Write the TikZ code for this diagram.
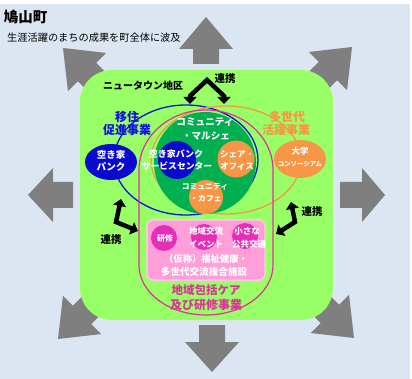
\documentclass[tikz,border=0pt]{standalone}
\usepackage{fontspec}
\setmainfont{Noto Sans CJK JP}
\usetikzlibrary{arrows.meta}
\definecolor{bgc}{HTML}{DCE6F2}
\definecolor{arrowgray}{HTML}{7F7F7F}
\definecolor{greenbox}{HTML}{99FF66}
\definecolor{dkgreen}{HTML}{00B050}
\definecolor{bluefill}{HTML}{0A0ACF}
\definecolor{blueline}{HTML}{1010E0}
\definecolor{orangec}{HTML}{F79646}
\definecolor{magc}{HTML}{E0309E}
\definecolor{pinkbox}{HTML}{FF9ED8}
\definecolor{pinkedge}{HTML}{FFC8E8}
\definecolor{magfill}{HTML}{E62EB8}
\newcommand\grayarrow[4]{%
  \fill[arrowgray, shift={(#1)}, rotate=#2] (0,0) -- (-#3,27) -- (-#3,13) -- (-#4,13) -- (-#4,-13) -- (-#3,-13) -- (-#3,-27) -- cycle;}
\tikzset{
  txt/.style={inner sep=0pt, outer sep=0pt, font=\bfseries\fontsize{#1}{#1}\selectfont},
  wtxt/.style={txt=#1, text=white},
  linkarrow/.style={line width=4.5pt, {Triangle[length=7pt,width=13pt]}-{Triangle[length=7pt,width=13pt]}},
}
\begin{document}
\begin{tikzpicture}[x=1pt,y=-1pt]
\useasboundingbox (0,0) rectangle (412,379);
\fill[white] (0,0) rectangle (412,379);
\fill[bgc] (0,4) rectangle (410,379);
% gray arrows
\grayarrow{206,17}{90}{32}{47}
\grayarrow{212,372}{270}{30}{47}
\grayarrow{28,195}{180}{25}{45}
\grayarrow{385,195}{0}{23}{45}
\grayarrow{63,48}{135}{34}{60}
\grayarrow{352,47}{45}{34}{60}
\grayarrow{58,339}{225}{34}{60}
\grayarrow{354,338}{315}{34}{60}
% green area
\fill[greenbox, rounded corners=32] (80,70) rectangle (333,320);
% outlines
\draw[blueline, line width=1.3] (186,160) ellipse [x radius=72, y radius=55];
\draw[orangec, line width=1.3] (226,160) ellipse [x radius=75, y radius=54];
\draw[magc, line width=1.2] (139,170) arc[start angle=180, end angle=360, x radius=67, y radius=60] -- (273,265) arc[start angle=0, end angle=180, x radius=67, y radius=50] -- cycle;
% circles
\fill[dkgreen] (205,163) circle [radius=51];
\fill[bluefill] (111,162) ellipse [x radius=26, y radius=18];
\fill[bluefill] (177,160) circle [radius=19];
\fill[orangec] (236,159) circle [radius=18.5];
\fill[orangec] (206,197) circle [radius=17];
\fill[orangec] (300,159) ellipse [x radius=26, y radius=19];
% pink box
\draw[pinkedge, fill=pinkbox, line width=1.5, rounded corners=6] (147,220) rectangle (265,280);
\fill[magfill] (164,238) circle [radius=13];
\fill[magfill] (204,237) circle [radius=13];
\fill[magfill] (245,236) circle [radius=13];
% texts
\node[txt=14.5, anchor=west] (ttl) at (4,17) {鳩山町};
\node[font=\fontsize{10.2}{10.2}\selectfont, inner sep=0pt, anchor=west] (sub) at (7,38) {生涯活躍のまちの成果を町全体に波及};
\node[txt=10] (nt) at (143,86) {ニュータウン地区};
\node[txt=12, text=blueline] (ij1) at (127,117) {移住};
\node[txt=12, text=blueline] (ij2) at (127,129.5) {促進事業};
\node[txt=12, text=orangec] (tk1) at (287,117) {多世代};
\node[txt=12, text=orangec] (tk2) at (286,129.5) {活躍事業};
\node[wtxt=9.6] (cm1) at (205,122) {コミュニティ};
\node[wtxt=9.6] (cm2) at (206,136) {・マルシェ};
\node[wtxt=9.5] (ak1) at (111,155) {空き家};
\node[wtxt=9.5] (ak2) at (111,167) {パンク};
\node[wtxt=9] (sb1) at (176,154) {空き家バンク};
\node[wtxt=8.8] (sb2) at (177,166) {サービスセンター};
\node[wtxt=8.5] (so1) at (237,154) {シェア・};
\node[wtxt=8.5] (so2) at (237,166) {オフィス};
\node[wtxt=7.8] (cc1) at (205,187) {コミュニティ};
\node[wtxt=7.8] (cc2) at (206,199) {・カフェ};
\node[wtxt=8.5] (dg1) at (300,151) {大学};
\node[wtxt=6.4] (dg2) at (300,164) {コンソーシアム};
\node[wtxt=8] (ks) at (165,238) {研修};
\node[wtxt=8.5] (ev1) at (206,231) {地域交流};
\node[wtxt=8.5] (ev2) at (206,244) {イベント};
\node[wtxt=8.5] (ko1) at (247,231) {小さな};
\node[wtxt=8.5] (ko2) at (249,244) {公共交通};
\node[wtxt=9.3] (fk1) at (206,259) {（仮称）福祉健康・};
\node[wtxt=9.6] (fk2) at (204,272) {多世代交流複合施設};
\node[txt=11.5, text=magc] (cg1) at (206,290) {地域包括ケア};
\node[txt=12, text=magc] (cg2) at (206,305) {及び研修事業};
\node[txt=10.5] (rk1) at (225,79) {連携};
\node[txt=10.5] (rk2) at (111,240) {連携};
\node[txt=10.5] (rk3) at (312,212) {連携};
% black link arrows
\coordinate (ta) at (190,104);
\coordinate (tb) at (190,96);
\coordinate (tc) at (207,80);
\coordinate (td) at (224,96);
\coordinate (te) at (224,104);
\draw[linkarrow] (ta) -- (tb) -- (tc) -- (td) -- (te);
\coordinate (la) at (121,199);
\coordinate (lb) at (116,222);
\coordinate (lc) at (138,231);
\draw[linkarrow] (la) -- (lb) -- (lc);
\coordinate (ra) at (291,202);
\coordinate (rb) at (295,222);
\coordinate (rc) at (276,234);
\draw[linkarrow] (ra) -- (rb) -- (rc);
\end{tikzpicture}
\end{document}
